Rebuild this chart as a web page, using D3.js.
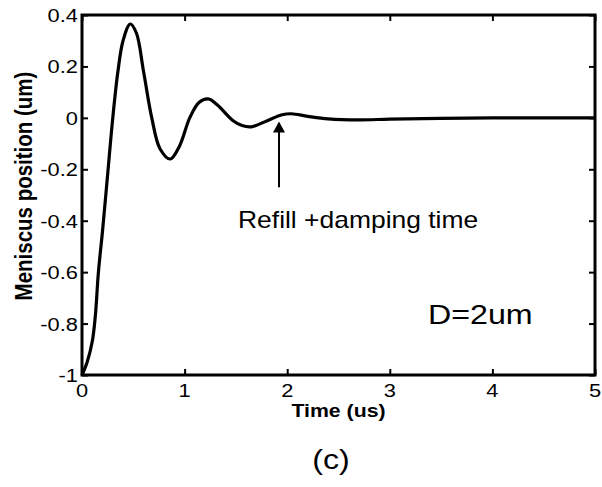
<!DOCTYPE html>
<html>
<head>
<meta charset="utf-8">
<script src="https://cdn.jsdelivr.net/npm/d3@7"></script>
<style>
  html, body { margin: 0; padding: 0; background: #fff; }
  svg { display: block; }
  text { font-family: "Liberation Sans", Arial, sans-serif; fill: #000; }
</style>
</head>
<body>
<svg id="chart" width="602" height="487"></svg>
<script>
// ---- data ----
const timeUs = [0, 0.05, 0.1, 0.13, 0.16, 0.2, 0.25, 0.3, 0.35, 0.4, 0.47, 0.53, 0.6, 0.68, 0.76, 0.86, 0.95, 1.05, 1.14, 1.23, 1.32, 1.47, 1.56, 1.65, 1.8, 1.95, 2.04, 2.2, 2.4, 2.7, 3.0, 3.5, 4.0, 4.5, 5.0];
const meniscusUm = [-1, -0.95, -0.87, -0.77, -0.6, -0.44, -0.22, 0.0, 0.18, 0.3, 0.365, 0.33, 0.18, 0.0, -0.12, -0.16, -0.11, 0.0, 0.06, 0.074, 0.05, -0.01, -0.03, -0.035, -0.012, 0.012, 0.016, 0.006, -0.004, -0.008, -0.005, -0.002, 0, 0, 0];
const xTicks = [0, 1, 2, 3, 4, 5];
const xTickLabels = ["0", "1", "2", "3", "4", "5"];
const yTicks = [0.4, 0.2, 0, -0.2, -0.4, -0.6, -0.8, -1];
const yTickLabels = ["0.4", "0.2", "0", "-0.2", "-0.4", "-0.6", "-0.8", "-1"];
const xLabel = "Time (us)";
const yLabel = "Meniscus position (um)";
const annotationText = "Refill +damping time";
const arrowTime = [1.92];
const arrowFromTo = [-0.27, -0.014];
const noteText = "D=2um";
const panelText = "(c)";

// ---- layout ----
const svg = d3.select("#chart");
const L = 82, R = 595, T = 15, B = 375;
const SX = 1.15; // horizontal stretch of the reference image
const x = d3.scaleLinear().domain([0, 5]).range([L, R]);
const y = d3.scaleLinear().domain([-1, 0.4]).range([B, T]);

function stretchedText(px, py, str, opts) {
  return svg.append("text")
    .attr("transform", `translate(${px},${py}) scale(${opts.sx || SX},1)` + (opts.rotate ? ` rotate(${opts.rotate})` : ""))
    .attr("text-anchor", opts.anchor || "start")
    .style("font-size", opts.size + "px")
    .style("font-weight", opts.bold ? "bold" : "normal")
    .text(str);
}

// ticks (inward, all four sides)
const tickLen = 6;
const axG = svg.append("g");
axG.append("g").attr("transform", `translate(0,${B})`)
  .call(d3.axisBottom(x).tickValues(xTicks).tickSize(-tickLen).tickFormat(""));
axG.append("g").attr("transform", `translate(0,${T})`)
  .call(d3.axisTop(x).tickValues(xTicks).tickSize(-tickLen).tickFormat(""));
axG.append("g").attr("transform", `translate(${L},0)`)
  .call(d3.axisLeft(y).tickValues(yTicks).tickSize(-tickLen).tickFormat(""));
axG.append("g").attr("transform", `translate(${R},0)`)
  .call(d3.axisRight(y).tickValues(yTicks).tickSize(-tickLen).tickFormat(""));
axG.selectAll(".domain").remove();
axG.selectAll(".tick line").attr("stroke", "#000").attr("stroke-width", 2);

// curve
const line = d3.line()
  .x((d, i) => x(timeUs[i]))
  .y(d => y(d))
  .curve(d3.curveCatmullRom.alpha(0.5));
svg.append("path")
  .datum(meniscusUm)
  .attr("d", line)
  .attr("fill", "none")
  .attr("stroke", "#000")
  .attr("stroke-width", 3.2)
  .attr("stroke-linejoin", "round");

// box
svg.append("rect")
  .attr("x", L).attr("y", T).attr("width", R - L).attr("height", B - T)
  .attr("fill", "none").attr("stroke", "#000").attr("stroke-width", 3);

// tick labels
xTicks.forEach((v, i) => stretchedText(x(v), 397, xTickLabels[i], { size: 19, anchor: "middle" }));
yTicks.forEach((v, i) => stretchedText(78, y(v) + 7, yTickLabels[i], { size: 19, anchor: "end" }));

// axis labels
stretchedText((L + R) / 2, 417, xLabel, { size: 18.5, bold: true, anchor: "middle" });
stretchedText(32, 186, yLabel, { size: 20.5, bold: true, anchor: "middle", rotate: -90 });

// arrow
const ax = x(arrowTime[0]);
const yTail = y(arrowFromTo[0]), yTip = y(arrowFromTo[1]);
svg.append("line")
  .attr("x1", ax).attr("x2", ax).attr("y1", yTail).attr("y2", yTip + 8)
  .attr("stroke", "#000").attr("stroke-width", 2);
svg.append("path")
  .attr("d", `M${ax},${yTip} L${ax - 6},${yTip + 11} L${ax + 6},${yTip + 11} Z`)
  .attr("fill", "#000");

// annotations
stretchedText(238, 228, annotationText, { size: 23 });
stretchedText(428, 324, noteText, { size: 28 });
stretchedText(331, 469, panelText, { size: 28, anchor: "middle" });
</script>
</body>
</html>
